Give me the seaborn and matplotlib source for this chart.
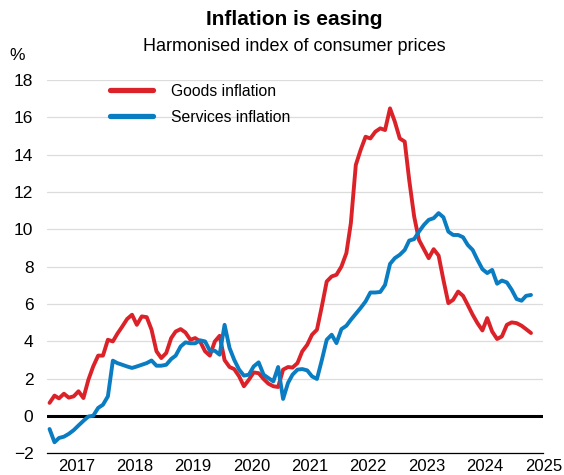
import numpy as np
import pandas as pd
import matplotlib
matplotlib.use("Agg")
import matplotlib.pyplot as plt
import matplotlib.dates as mdates
from matplotlib.ticker import FuncFormatter, MultipleLocator
import seaborn as sns

# ---- data (monthly, Jan 2017 onwards) ----
start_month = "2017-01"
goods = [0.71, 1.1, 0.95, 1.2, 0.99, 1.06, 1.33, 0.97, 1.95, 2.66, 3.24, 3.24,
         4.09, 4.0, 4.41, 4.8, 5.2, 5.43, 4.89, 5.34, 5.3, 4.63, 3.47, 3.11,
         3.38, 4.18, 4.53, 4.66, 4.48, 4.09, 4.18, 4.0, 3.47, 3.24, 4.0, 4.3,
         3.0, 2.63, 2.52, 2.13, 1.6, 1.95, 2.34, 2.3, 1.99, 1.74, 1.6, 1.56,
         2.49, 2.63, 2.6, 2.84, 3.47, 3.82, 4.36, 4.63, 5.9, 7.21, 7.48, 7.57,
         8.01, 8.73, 10.33, 13.45, 14.25, 14.96, 14.87, 15.23, 15.41, 15.32, 16.48, 15.77,
         14.87, 14.7, 12.65, 10.69, 9.44, 8.94, 8.46, 8.94, 8.6, 7.3, 6.05, 6.23,
         6.67, 6.44, 5.96, 5.43, 4.98, 4.59, 5.25, 4.53, 4.13, 4.27, 4.89, 5.02,
         4.98, 4.84, 4.66, 4.45]
services = [-0.69, -1.4, -1.17, -1.1, -0.95, -0.75, -0.5, -0.25, -0.02, 0.02, 0.44, 0.61,
            1.06, 2.97, 2.84, 2.75, 2.66, 2.58, 2.66, 2.75, 2.84, 2.98, 2.7, 2.7,
            2.75, 3.06, 3.24, 3.73, 3.95, 3.9, 3.9, 4.06, 4.0, 3.5, 3.5, 3.29,
            4.89, 3.65, 3.02, 2.49, 2.17, 2.22, 2.66, 2.88, 2.22, 2.04, 1.86, 2.63,
            0.92, 1.78, 2.22, 2.49, 2.52, 2.45, 2.13, 1.99, 3.02, 4.09, 4.36, 3.91,
            4.66, 4.84, 5.16, 5.48, 5.79, 6.14, 6.62, 6.62, 6.65, 7.03, 8.15, 8.46,
            8.64, 8.9, 9.4, 9.48, 9.88, 10.24, 10.51, 10.6, 10.87, 10.65, 9.88, 9.7,
            9.7, 9.58, 9.17, 8.9, 8.37, 7.87, 7.66, 7.83, 7.09, 7.26, 7.16, 6.77,
            6.27, 6.18, 6.44, 6.49]
series_names = ["Goods inflation", "Services inflation"]
colors = ["#DC2229", "#0A7CC1"]
year_labels = ["2017", "2018", "2019", "2020", "2021", "2022", "2023", "2024", "2025"]

dates = pd.period_range(start_month, periods=len(goods), freq="M").to_timestamp() + pd.Timedelta(days=14)
df = pd.DataFrame({
    "date": np.concatenate([dates, dates]),
    "value": goods + services,
    "series": [series_names[0]] * len(goods) + [series_names[1]] * len(services),
})

sns.set_style("white")
plt.rcParams["font.family"] = ["Liberation Sans", "DejaVu Sans"]
plt.rcParams["text.color"] = "black"

fig = plt.figure(figsize=(5.64, 4.75), dpi=100)
ax = fig.add_axes([0.0839, 0.0453, 0.8794, 0.7863])

sns.lineplot(data=df, x="date", y="value", hue="series", palette=dict(zip(series_names, colors)),
             linewidth=2.8, ax=ax, legend=True)

ax.set_ylim(-2, 18)
ax.set_xlim(pd.Timestamp("2017-01-01"), pd.Timestamp("2025-07-01"))
ax.yaxis.set_major_locator(MultipleLocator(2))
ax.grid(axis="y", color="#dcdcdc", linewidth=0.9)
ax.grid(axis="x", visible=False)
ax.set_axisbelow(True)
ax.axhline(0, color="black", linewidth=2.2, zorder=1.5)

for s in ["top", "right", "left"]:
    ax.spines[s].set_visible(False)
ax.spines["bottom"].set_color("black")
ax.spines["bottom"].set_linewidth(0.9)

ax.xaxis.set_major_locator(mdates.YearLocator())
ax.xaxis.set_minor_locator(mdates.MonthLocator(bymonth=[4, 7, 10]))
ax.xaxis.set_major_formatter(FuncFormatter(lambda v, p: ""))
lab = dict(zip(range(2017, 2026), year_labels))
ax.xaxis.set_minor_formatter(FuncFormatter(
    lambda v, p: lab.get(mdates.num2date(v).year, "") if mdates.num2date(v).month == 7 else ""))
ax.tick_params(axis="x", which="major", direction="in", length=6, width=0.9, color="black", labelsize=0)
ax.tick_params(axis="x", which="minor", direction="in", length=2.8, width=0.9, color="black",
               labelsize=12, labelcolor="black", pad=4)
ax.tick_params(axis="y", length=0, labelsize=12.5, labelcolor="black", pad=10)
ax.set_xlabel("")
ax.set_ylabel("")

leg = ax.legend(loc="upper left", bbox_to_anchor=(0.118, 1.0), frameon=False, fontsize=11.3,
                handlelength=2.75, handletextpad=1.15, labelspacing=0.7, borderpad=0, borderaxespad=0.25)
for h in leg.get_lines():
    h.set_linewidth(3.8)
for t in leg.get_texts():
    t.set_color("black")

fig.text(0.522, 0.958, "Inflation is easing", ha="center", va="center", fontsize=15, fontweight="bold")
fig.text(0.522, 0.903, "Harmonised index of consumer prices", ha="center", va="center", fontsize=13)
fig.text(0.031, 0.884, "%", ha="center", va="center", fontsize=12.5)

fig.savefig("out.png", dpi=100)
